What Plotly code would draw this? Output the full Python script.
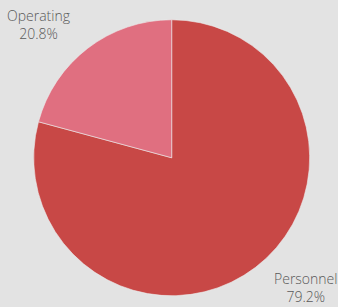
import plotly.graph_objects as go

labels = ["Personnel", "Operating"]
values = [79.2, 20.8]
colors = ["#c84846", "#e06f80"]

W, H = 338, 307

fig = go.Figure(go.Pie(
    labels=labels,
    values=values,
    sort=False,
    direction="clockwise",
    rotation=0,
    marker=dict(colors=colors, line=dict(color="#ececec", width=0.6)),
    textinfo="none",
    showlegend=False,
    hoverinfo="label+percent",
    domain=dict(x=[33.7 / W, 309.7 / W], y=[1 - 295.8 / H, 1 - 19.7 / H]),
))

# outside labels (text built from data)
total = sum(values)
label_pos = {"Operating": (38.4, 24.5), "Personnel": (305.5, 287.0)}
for lab, val in zip(labels, values):
    px, py = label_pos[lab]
    fig.add_annotation(
        x=px / W, y=1 - py / H, xref="paper", yref="paper",
        xanchor="center", yanchor="middle", align="center",
        text=f"{lab}<br>{val / total * 100:.1f}%",
        showarrow=False, borderpad=0,
        font=dict(family="Open Sans", size=14, color="#595959", weight=300),
    )

fig.update_layout(
    width=W, height=H,
    paper_bgcolor="#e3e3e3",
    plot_bgcolor="#e3e3e3",
    margin=dict(l=0, r=0, t=0, b=0),
)
fig.write_html("out.html", config={"displayModeBar": False},
               post_script="document.body.style.margin='0';document.body.style.overflow='hidden';")
